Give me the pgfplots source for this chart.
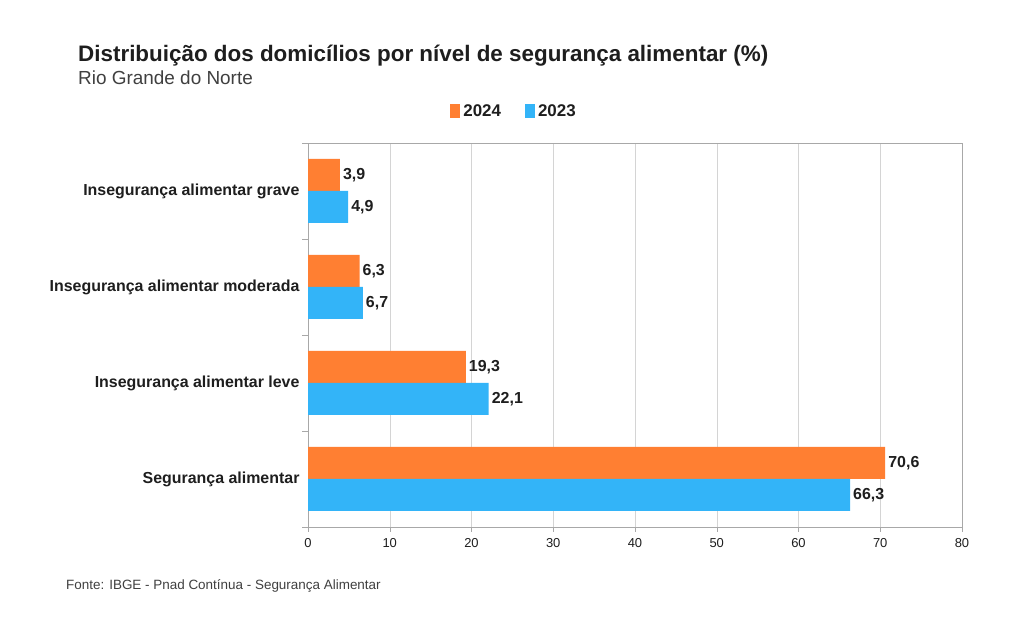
\documentclass[border=0pt]{standalone}
\usepackage{pgfplots}
\pgfplotsset{compat=1.18}
\usepackage{fontspec}
\setmainfont{Liberation Sans}
\definecolor{corange}{HTML}{FF7F32}
\definecolor{cblue}{HTML}{33B4F8}
\definecolor{gridgray}{HTML}{D4D4D4}
\definecolor{axisgray}{HTML}{A8A8A8}
\definecolor{textdark}{HTML}{1E1E1E}
\begin{document}
\begin{tikzpicture}
\fill[white] (0,0) rectangle (1024bp,636bp);
\path[use as bounding box] (0,0) rectangle (1024bp,636bp);
\begin{axis}[
  at={(308bp,109bp)}, anchor=south west,
  scale only axis, width=654bp, height=384bp,
  xbar, bar width=32bp,
  xmin=0, xmax=80, ymin=-0.5, ymax=3.5,
  xtick={0,10,...,80},
  ytick={0,1,2,3},
  yticklabels={Segurança alimentar, Insegurança alimentar leve, Insegurança alimentar moderada, Insegurança alimentar grave},
  minor ytick={-0.5,0.5,1.5,2.5,3.5},
  xtick pos=bottom, ytick pos=left,
  tick align=outside,
  major tick length=5bp, minor tick length=6bp,
  major y tick style={draw=none},
  minor y tick style={draw=axisgray},
  x tick style={draw=axisgray},
  xmajorgrids, grid style={gridgray},
  axis line style={axisgray},
  /pgf/number format/assume math mode=true,
  x tick label style={font=\fontsize{13}{15}\selectfont, text=textdark, yshift=-3bp},
  y tick label style={font=\bfseries\fontsize{16}{18}\selectfont, text=textdark},
  nodes near coords,
  nodes near coords style={anchor=west, inner sep=3bp, font=\bfseries\fontsize{16}{18}\selectfont, text=textdark, /pgf/number format/.cd, use comma, fixed, fixed zerofill, precision=1},
  legend style={at={(0.315,1.083)}, anchor=center, draw=none, fill=none, legend columns=2,
    font=\bfseries\fontsize{17}{20}\selectfont, text=textdark, column sep=1bp,
    /tikz/every even column/.append style={column sep=22bp}},
  legend image code/.code={\fill[#1] (0bp,-7bp) rectangle (10bp,7bp);},
]
\addplot[fill=corange, draw=none, bar shift=16bp] coordinates {(70.6,0) (19.3,1) (6.3,2) (3.9,3)};
\addlegendentry{2024}
\addplot[fill=cblue, draw=none, bar shift=-16bp] coordinates {(66.3,0) (22.1,1) (6.7,2) (4.9,3)};
\addlegendentry{2023}
\end{axis}
\node[anchor=base west, font=\bfseries\fontsize{22.5}{26}\selectfont, text=textdark, inner sep=0] at (78bp,574bp) {Distribuição dos domicílios por nível de segurança alimentar (\%)};
\node[anchor=base west, font=\fontsize{19}{22}\selectfont, text=textdark!85, inner sep=0] at (78bp,551bp) {Rio Grande do Norte};
\node[anchor=base west, font=\fontsize{13.5}{16}\selectfont, text=textdark!85, inner sep=0] at (66bp,46bp) {Fonte: IBGE - Pnad Contínua - Segurança Alimentar};
\end{tikzpicture}
\end{document}
